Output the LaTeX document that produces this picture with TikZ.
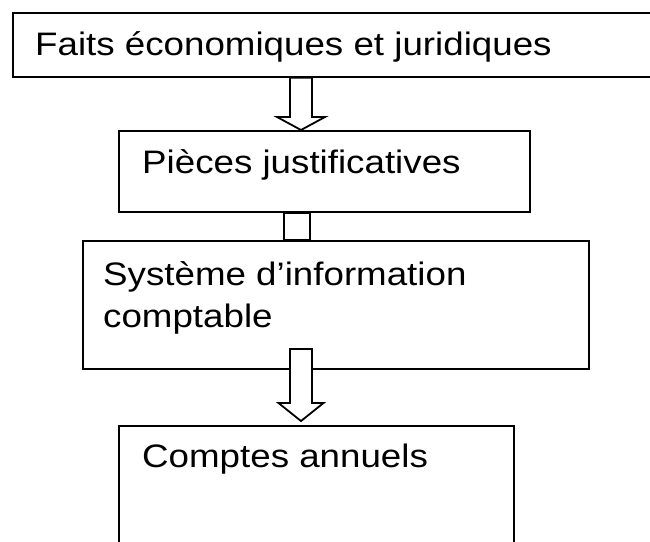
\documentclass[tikz,border=0pt]{standalone}
\usepackage{fontspec}
\setmainfont{Liberation Sans}[FakeStretch=1.13]
\usetikzlibrary{calc}
\newcommand\blockarrow[4]{%
  \draw[blockarrow] ([xshift=-11pt]#1) -- ([xshift=-11pt,yshift=#3]#2) -- ([xshift=-#4,yshift=#3]#2) -- (#2)
    -- ([xshift=#4,yshift=#3]#2) -- ([xshift=11pt,yshift=#3]#2) -- ([xshift=11pt]#1) -- cycle;}
\begin{document}
\begin{tikzpicture}[x=1pt, y=-1pt, line join=miter, font=\fontsize{32.5}{38}\selectfont,
  frame/.style={draw, line width=1.8pt, inner sep=0pt, anchor=north west},
  label/.style={anchor=base west, inner sep=0pt},
  blockarrow/.style={draw, fill=white, line width=1.8pt}]
  \useasboundingbox (0,0) rectangle (650,541);

  % frames: name/left/top/width/height
  \foreach \n/\l/\t/\w/\h in {faits/12/12/660/64, pieces/118/130/411/81, sic/82/240/506/128, comptes/118/425/395/150}
    \node[frame, minimum width=\w pt, minimum height=\h pt] (\n) at (\l,\t) {};

  % texts
  \node[label] (faitsT) at (35,55) {Faits économiques et juridiques};
  \node[label] (piecesT) at (142,173) {Pièces justificatives};
  \node[label] (sicT) at (103,285) {Système d’information};
  \node[label] (sicU) at (103,327) {comptable};
  \node[label] (comptesT) at (142,467) {Comptes annuels};

  % arrows between the frames
  \coordinate (a1top) at (301,0 |- faits.south);
  \coordinate (a1tip) at (301,0 |- pieces.north);
  \blockarrow{a1top}{a1tip}{13pt}{24pt}

  \draw[blockarrow] (284,0 |- pieces.south) rectangle (310,0 |- sic.north);

  \coordinate (a3top) at (301,349);
  \coordinate (a3tip) at ([yshift=4pt]301,0 |- comptes.north);
  \blockarrow{a3top}{a3tip}{18pt}{22.5pt}
\end{tikzpicture}
\end{document}
